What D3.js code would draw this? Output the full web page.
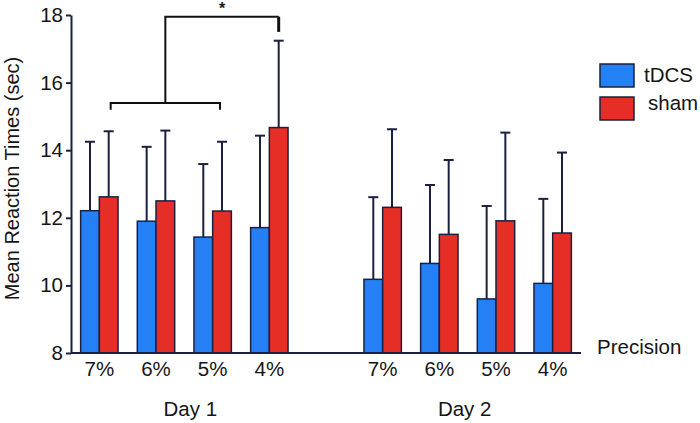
<!DOCTYPE html>
<html><head><meta charset="utf-8">
<script src="https://cdn.jsdelivr.net/npm/d3@7"></script>
<style>body{margin:0;background:#fff}svg{display:block}text{font-family:"Liberation Sans",Arial,sans-serif;fill:#151515}</style>
</head><body><svg id="c" width="700" height="423"></svg>
<script>
const categories = ["D1-7%","D1-6%","D1-5%","D1-4%","gap","D2-7%","D2-6%","D2-5%","D2-4%"];
const tickLabels = ["7%","6%","5%","4%","","7%","6%","5%","4%"];
const series = ["tDCS","sham"];
const tdcsMean = [12.21,11.90,11.43,11.71,null,10.18,10.65,9.60,10.06];
const tdcsUpper = [14.25,14.10,13.59,14.43,null,12.61,12.97,12.35,12.56];
const shamMean = [12.62,12.50,12.20,14.67,null,12.31,11.51,11.91,11.55];
const shamUpper = [14.56,14.58,14.25,17.24,null,14.62,13.71,14.52,13.93];
const yTicks = [8,10,12,14,16,18];
const colors = ["#2680f5","#e52e26"];
const stroke = "#1b2040";
const FS = "20.5px";

const svg = d3.select("#c");
const x = d3.scaleBand().domain(categories).range([71,581]).paddingInner(0.34).paddingOuter(0.17);
const xs = d3.scaleBand().domain(series).range([0,x.bandwidth()]);
const y = d3.scaleLinear().domain([8,18]).range([353,15]);

// y axis
const ya = svg.append("g").attr("transform","translate(71,0)")
  .call(d3.axisLeft(y).tickValues(yTicks).tickSize(5).tickSizeOuter(0).tickPadding(3));
ya.select(".domain").attr("stroke",stroke).attr("stroke-width",2);
ya.selectAll(".tick line").attr("stroke",stroke).attr("stroke-width",2);
ya.selectAll("text").style("font-size",FS).attr("fill","#151515");

const vals = [tdcsMean, shamMean];
const ups = [tdcsUpper, shamUpper];
const g = svg.append("g");
categories.forEach((c,i)=>{
  if (tdcsMean[i]===null) return;
  series.forEach((s,k)=>{
    const cx = x(c)+xs(s)+xs.bandwidth()/2;
    g.append("line").attr("x1",cx).attr("x2",cx).attr("y1",y(vals[k][i])).attr("y2",y(ups[k][i]))
      .attr("stroke",stroke).attr("stroke-width",2);
    g.append("line").attr("x1",cx-5).attr("x2",cx+5).attr("y1",y(ups[k][i])).attr("y2",y(ups[k][i]))
      .attr("stroke",stroke).attr("stroke-width",2);
    g.append("rect").attr("x",x(c)+xs(s)).attr("width",xs.bandwidth())
      .attr("y",y(vals[k][i])).attr("height",y(8)-y(vals[k][i]))
      .attr("fill",colors[k]).attr("stroke",stroke).attr("stroke-width",1.5);
  });
});

// x axis line
svg.append("line").attr("x1",71).attr("x2",581).attr("y1",y(8)).attr("y2",y(8))
  .attr("stroke",stroke).attr("stroke-width",2);
categories.forEach((c,i)=>{
  svg.append("text").attr("x",x(c)+x.bandwidth()/2).attr("y",376).attr("text-anchor","middle")
    .style("font-size",FS).text(tickLabels[i]);
});
svg.append("text").attr("x",(x("D1-6%")+x("D1-5%")+x.bandwidth())/2+6).attr("y",416).attr("text-anchor","middle").style("font-size",FS).text("Day 1");
svg.append("text").attr("x",(x("D2-6%")+x("D2-5%")+x.bandwidth())/2-3).attr("y",416).attr("text-anchor","middle").style("font-size",FS).text("Day 2");
svg.append("text").attr("x",597).attr("y",354).style("font-size",FS).text("Precision");

// y label
svg.append("text").attr("transform","translate(19,178.5) rotate(-90)").attr("text-anchor","middle")
  .style("font-size","20px").text("Mean Reaction Times (sec)");

// significance bracket
const sc = c => x(c)+xs("sham")+xs.bandwidth()/2;
const bx1 = sc("D1-7%")+2, bx2 = sc("D1-5%")-2, bm = (bx1+bx2)/2, bEnd = sc("D1-4%");
const yb = y(15.4), yt = y(17.95);
svg.append("path").attr("d",`M${bx1},${y(15.2)}V${yb}H${bx2}V${y(15.2)}`).attr("fill","none").attr("stroke","#111").attr("stroke-width",2);
svg.append("path").attr("d",`M${bm},${yb}V${yt}H${bEnd}`).attr("fill","none").attr("stroke","#111").attr("stroke-width",2);
svg.append("line").attr("x1",bEnd).attr("x2",bEnd).attr("y1",yt).attr("y2",y(17.5)).attr("stroke","#111").attr("stroke-width",3);
svg.append("text").attr("x",(bm+bEnd)/2).attr("y",14).attr("text-anchor","middle").style("font-size","16px").style("font-weight","bold").text("*");

// legend
const lg = svg.append("g");
series.forEach((s,k)=>{
  lg.append("rect").attr("x",600).attr("y",64+k*33).attr("width",34).attr("height",23)
    .attr("fill",colors[k]).attr("stroke",stroke).attr("stroke-width",1.5);
  lg.append("text").attr("x",644+k*4).attr("y",82+k*28).style("font-size",FS).text(s);
});
</script></body></html>
